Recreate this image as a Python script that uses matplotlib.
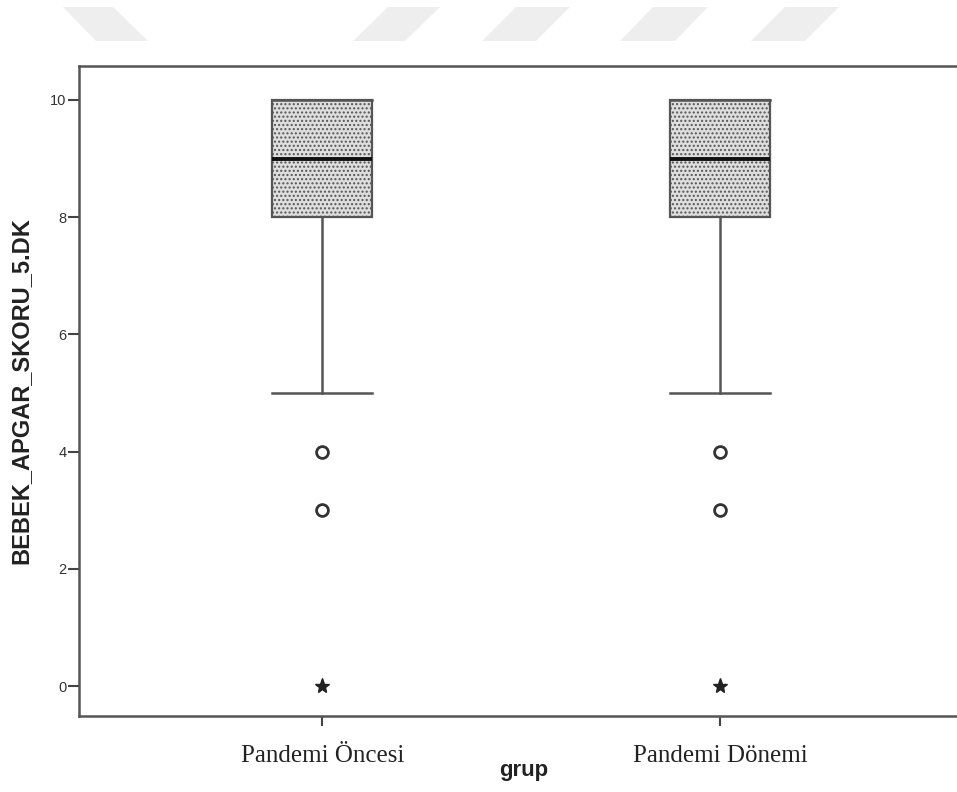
import numpy as np
import matplotlib.pyplot as plt
from matplotlib.patches import Polygon

## Data
groups = ['Pandemi Öncesi', 'Pandemi Dönemi']
q1 = [8, 8]
median = [9, 9]
q3 = [10, 10]
whisker_low = [5, 5]
whisker_high = [10, 10]
outliers = [[4, 3], [4, 3]]
extremes = [[0], [0]]

plt.rcParams['hatch.color'] = '#8f8f8f'
plt.rcParams['hatch.linewidth'] = 1.0

fig = plt.figure(figsize=(9.57, 7.92), dpi=100)
ax = fig.add_axes([0.0826, 0.096, 0.93, 0.8207])

## Watermark stripes at the top (pixel coordinates of the page)
W, H = 957, 792
stripes = [
    [(63, 7), (113, 7), (148, 41), (96, 41)],
    [(388, 7), (440, 7), (405, 41), (353, 41)],
    [(516, 7), (570, 7), (536, 41), (482, 41)],
    [(653, 7), (708, 7), (675, 41), (620, 41)],
    [(785, 7), (839, 7), (805, 41), (751, 41)],
]
for s in stripes:
    pts = [(x / W, 1 - y / H) for x, y in s]
    fig.patches.append(Polygon(pts, closed=True, transform=fig.transFigure,
                               facecolor='#eeeeee', edgecolor='none', zorder=0))

## Box plot from summary stats
positions = np.arange(1, len(groups) + 1)
stats = []
for i, g in enumerate(groups):
    stats.append({'label': g, 'q1': q1[i], 'med': median[i], 'q3': q3[i],
                  'whislo': whisker_low[i], 'whishi': whisker_high[i], 'fliers': []})

bp = ax.bxp(stats, positions=positions, widths=0.251, showfliers=False,
            patch_artist=True, capwidths=0.251,
            boxprops=dict(facecolor='#dedede', edgecolor='#555555', linewidth=1.6, hatch='....'),
            medianprops=dict(color='#111111', linewidth=2.8),
            whiskerprops=dict(color='#555555', linewidth=1.8),
            capprops=dict(color='#555555', linewidth=1.8))

for i, pos in enumerate(positions):
    ax.plot([pos] * len(outliers[i]), outliers[i], linestyle='none', marker='o',
            markersize=8.5, markerfacecolor='white', markeredgecolor='#333333',
            markeredgewidth=2.0, zorder=5)
    ax.plot([pos] * len(extremes[i]), extremes[i], linestyle='none', marker='*',
            markersize=11, color='#222222', zorder=5)

ax.set_xlim(0.389, 0.389 + 890 / 398)
ax.set_ylim(-0.51, 10.58)
ax.set_yticks([0, 2, 4, 6, 8, 10])
ax.set_xticks(positions)
ax.set_xticklabels(groups, family='Liberation Serif', fontsize=18, color='#222222')
for lab in ax.get_yticklabels():
    lab.set_family('Liberation Sans')
ax.tick_params(axis='y', labelsize=10.5, labelcolor='#333333', length=8, width=1.5,
               color='#444444', pad=1)
ax.tick_params(axis='x', length=7, width=1.5, color='#444444', pad=14)

for side in ['left', 'bottom', 'top']:
    ax.spines[side].set_color('#555555')
    ax.spines[side].set_linewidth(1.8)
ax.spines['right'].set_visible(False)

ax.set_ylabel('BEBEK_APGAR_SKORU_5.DK', family='Liberation Sans', fontsize=17,
              fontweight='bold', color='#222222', labelpad=13)
ax.set_xlabel('grup', family='Liberation Sans', fontsize=16, fontweight='bold',
              color='#222222', labelpad=-5)

fig.savefig('out.png', dpi=100)
